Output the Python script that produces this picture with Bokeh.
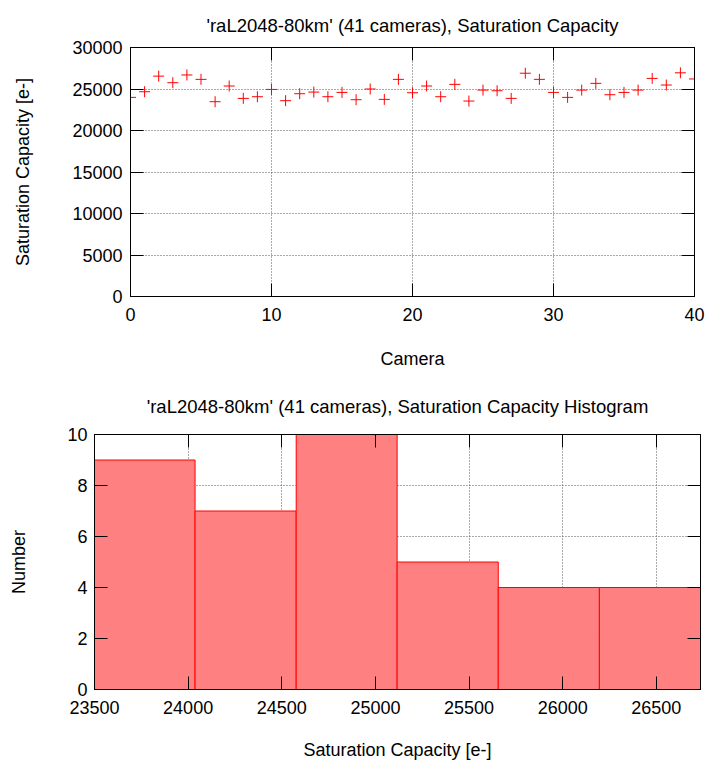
from bokeh.plotting import figure
from bokeh.models import Range1d, FixedTicker, LinearAxis, CustomJSTickFormatter
from bokeh.embed import file_html
from bokeh.resources import INLINE

# ---- data ----
cameras = list(range(41))
saturation = [23990, 24670, 26550, 25760, 26690, 26160, 23470, 25360, 23870, 24070,
              24950, 23590, 24430, 24630, 24070, 24590, 23710, 25000, 23750, 26160,
              24550, 25360, 24070, 25560, 23550, 24870, 24790, 23870, 26900, 26160,
              24590, 23990, 24870, 25680, 24310, 24590, 24870, 26280, 25480, 26950,
              26210]

hist_edges = [23497, 24037, 24577, 25116, 25656, 26196, 26736]
hist_counts = [9, 7, 12, 5, 4, 4]

top_x_ticks = [0, 10, 20, 30, 40]
top_y_ticks = [0, 5000, 10000, 15000, 20000, 25000, 30000]
hist_x_ticks = [23500, 24000, 24500, 25000, 25500, 26000, 26500]
hist_y_ticks = [0, 2, 4, 6, 8, 10]

title_top = "'raL2048-80km' (41 cameras), Saturation Capacity"
title_bottom = "'raL2048-80km' (41 cameras), Saturation Capacity Histogram"

FONT = "Liberation Sans"
FS = "18px"
TFS = "18.5px"


def style(p, xt, yt, xlabel, ylabel, xstand, ystand, tstand):
    p.outline_line_color = "black"
    p.outline_line_width = 1
    p.background_fill_color = "white"
    p.border_fill_color = "white"
    p.title.align = "center"
    p.title.text_font = FONT
    p.title.text_font_size = TFS
    p.title.text_font_style = "normal"
    p.title.text_color = "black"
    p.title.standoff = tstand
    p.xaxis.ticker = FixedTicker(ticks=xt)
    p.yaxis.ticker = FixedTicker(ticks=yt)
    p.xgrid.ticker = FixedTicker(ticks=xt)
    p.ygrid.ticker = FixedTicker(ticks=yt)
    for g in (p.xgrid, p.ygrid):
        g.grid_line_color = "#555555"
        g.grid_line_dash = "1 2"
        g.grid_line_width = 1
    p.xaxis.axis_label = xlabel
    p.yaxis.axis_label = ylabel
    p.xaxis.axis_label_standoff = xstand
    p.yaxis.axis_label_standoff = ystand
    for ax in p.xaxis + p.yaxis:
        ax.axis_label_text_font = FONT
        ax.axis_label_text_font_size = FS
        ax.axis_label_text_font_style = "normal"
        ax.axis_label_text_color = "black"
        ax.major_label_text_font = FONT
        ax.major_label_text_font_size = FS
        ax.major_label_text_color = "black"
        ax.major_label_standoff = 8
        ax.major_tick_in = 13
        ax.major_tick_out = 0
        ax.major_tick_line_color = "black"
        ax.minor_tick_line_color = None
        ax.axis_line_color = "black"
    p.xaxis.major_label_standoff = 11
    p.yaxis.major_label_orientation = "horizontal"
    for loc, t in (("above", xt), ("right", yt)):
        ax = LinearAxis(ticker=FixedTicker(ticks=t),
                        formatter=CustomJSTickFormatter(code="return ''"))
        ax.major_label_text_font_size = "1px"
        ax.major_label_standoff = 0
        ax.major_tick_in = 13
        ax.major_tick_out = 0
        ax.major_tick_line_color = "black"
        ax.minor_tick_line_color = None
        ax.axis_line_color = "black"
        p.add_layout(ax, loc)


p1 = figure(width=707, height=375, output_backend="svg", toolbar_location=None,
            x_range=Range1d(0, 40), y_range=Range1d(0, 30000),
            min_border_left=130, min_border_right=13, min_border_top=45, min_border_bottom=79,
            title=title_top)
p1.scatter(cameras, saturation, marker="cross", size=11, line_color="red", line_width=1)
style(p1, top_x_ticks, top_y_ticks, "Camera", "Saturation Capacity [e-]", 25, 36, 24)

p2 = figure(width=707, height=388, output_backend="svg", toolbar_location=None,
            x_range=Range1d(hist_x_ticks[0], hist_edges[-1]), y_range=Range1d(0, 10),
            min_border_left=94, min_border_right=7, min_border_top=59, min_border_bottom=74,
            title=title_bottom)
p2.quad(left=hist_edges[:-1], right=hist_edges[1:], bottom=0, top=hist_counts,
        fill_color="#ff8080", line_color="red", line_width=1)
style(p2, hist_x_ticks, hist_y_ticks, "Saturation Capacity [e-]", "Number", 23, 35, 35)
p2.yaxis.major_label_standoff = 7

open("out.html", "w").write(file_html([p1, p2], INLINE))
